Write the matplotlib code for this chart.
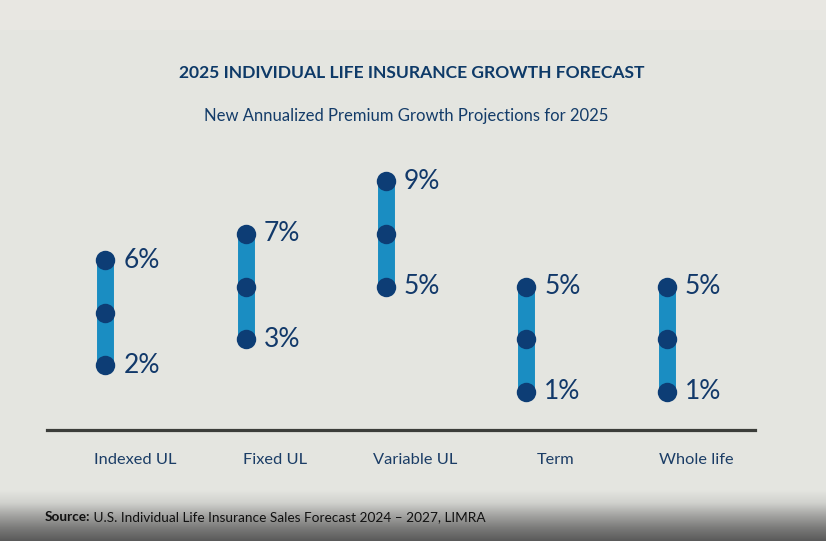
import matplotlib
matplotlib.use("Agg")
import matplotlib.pyplot as plt
import numpy as np
from matplotlib.colors import LinearSegmentedColormap

categories = ["Indexed UL", "Fixed UL", "Variable UL", "Term", "Whole life"]
low_values = [2, 3, 5, 1, 1]
high_values = [6, 7, 9, 5, 5]
title = "2025 INDIVIDUAL LIFE INSURANCE GROWTH FORECAST"
subtitle = "New Annualized Premium Growth Projections for 2025"
source_label = "Source:"
source_text = " U.S. Individual Life Insurance Sales Forecast 2024 \u2013 2027, LIMRA"

W, H = 826, 541
BG = "#e4e5e0"
NAVY = "#0d3d75"
BAR = "#1a8dc2"
TXT = "#12396a"

plt.rcParams['font.family'] = ['Lato', 'DejaVu Sans']

fig = plt.figure(figsize=(W / 100, H / 100), dpi=100)
fig.patch.set_facecolor(BG)

# background bands
bgax = fig.add_axes([0, 0, 1, 1], zorder=-5)
bgax.set_xlim(0, W)
bgax.set_ylim(H, 0)
bgax.axis("off")
bgax.axhspan(0, 30, color="#e8e7e2", lw=0)
cmap = LinearSegmentedColormap.from_list("g", [BG, "#d0d1cd", "#a3a3a1", "#7a7a79", "#5a5a5a"])
grad = np.linspace(0, 1, 100).reshape(-1, 1)
bgax.imshow(grad, cmap=cmap, extent=(0, W, H, 490), aspect="auto", zorder=0)

# main axes
x0, x1 = -0.416, 4.63
ax = fig.add_axes([47 / W, (H - 430) / H, 708 / W, (430 - 155) / H])
ax.set_facecolor("none")
ax.set_xlim(x0, x1)
ax.set_ylim(-0.456, 10)
for s in ["top", "right", "left"]:
    ax.spines[s].set_visible(False)
ax.spines["bottom"].set_color("#3b3d3a")
ax.spines["bottom"].set_linewidth(2.3)
ax.set_yticks([])

xs = np.arange(len(categories))
lo = np.array(low_values)
hi = np.array(high_values)
mid = (lo + hi) / 2
ax.vlines(xs, lo, hi, color=BAR, lw=12.2, zorder=2)
for arr in (lo, mid, hi):
    ax.plot(xs, arr, "o", color=NAVY, ms=14, mec="none", zorder=3)

for x, l, h in zip(xs, low_values, high_values):
    for v in (l, h):
        ax.annotate(f"{v}%", (x, v), xytext=(13, 0), textcoords="offset points",
                    va="center", ha="left", fontsize=19, color=TXT)

ax.set_xticks(xs + 0.21)
ax.set_xticklabels(categories, fontsize=11.8, color="#1b3d66")
ax.tick_params(axis="x", length=0, pad=16.5)

fig.text(412 / W, 1 - 73 / H, title, ha="center", va="center", fontsize=12.6,
         fontweight="bold", color="#0e3a68")
fig.text(406 / W, 1 - 116 / H, subtitle, ha="center", va="center", fontsize=12,
         color="#143c69")

t1 = fig.text(45 / W, 1 - 517 / H, source_label, ha="left", va="center", fontsize=9.8,
              fontweight="bold", color="#111111")
ax.annotate(source_text, xy=(1, 0.5), xycoords=t1, ha="left", va="center",
            fontsize=9.8, color="#111111", annotation_clip=False)

fig.savefig("out.png", dpi=100, facecolor=fig.get_facecolor())
